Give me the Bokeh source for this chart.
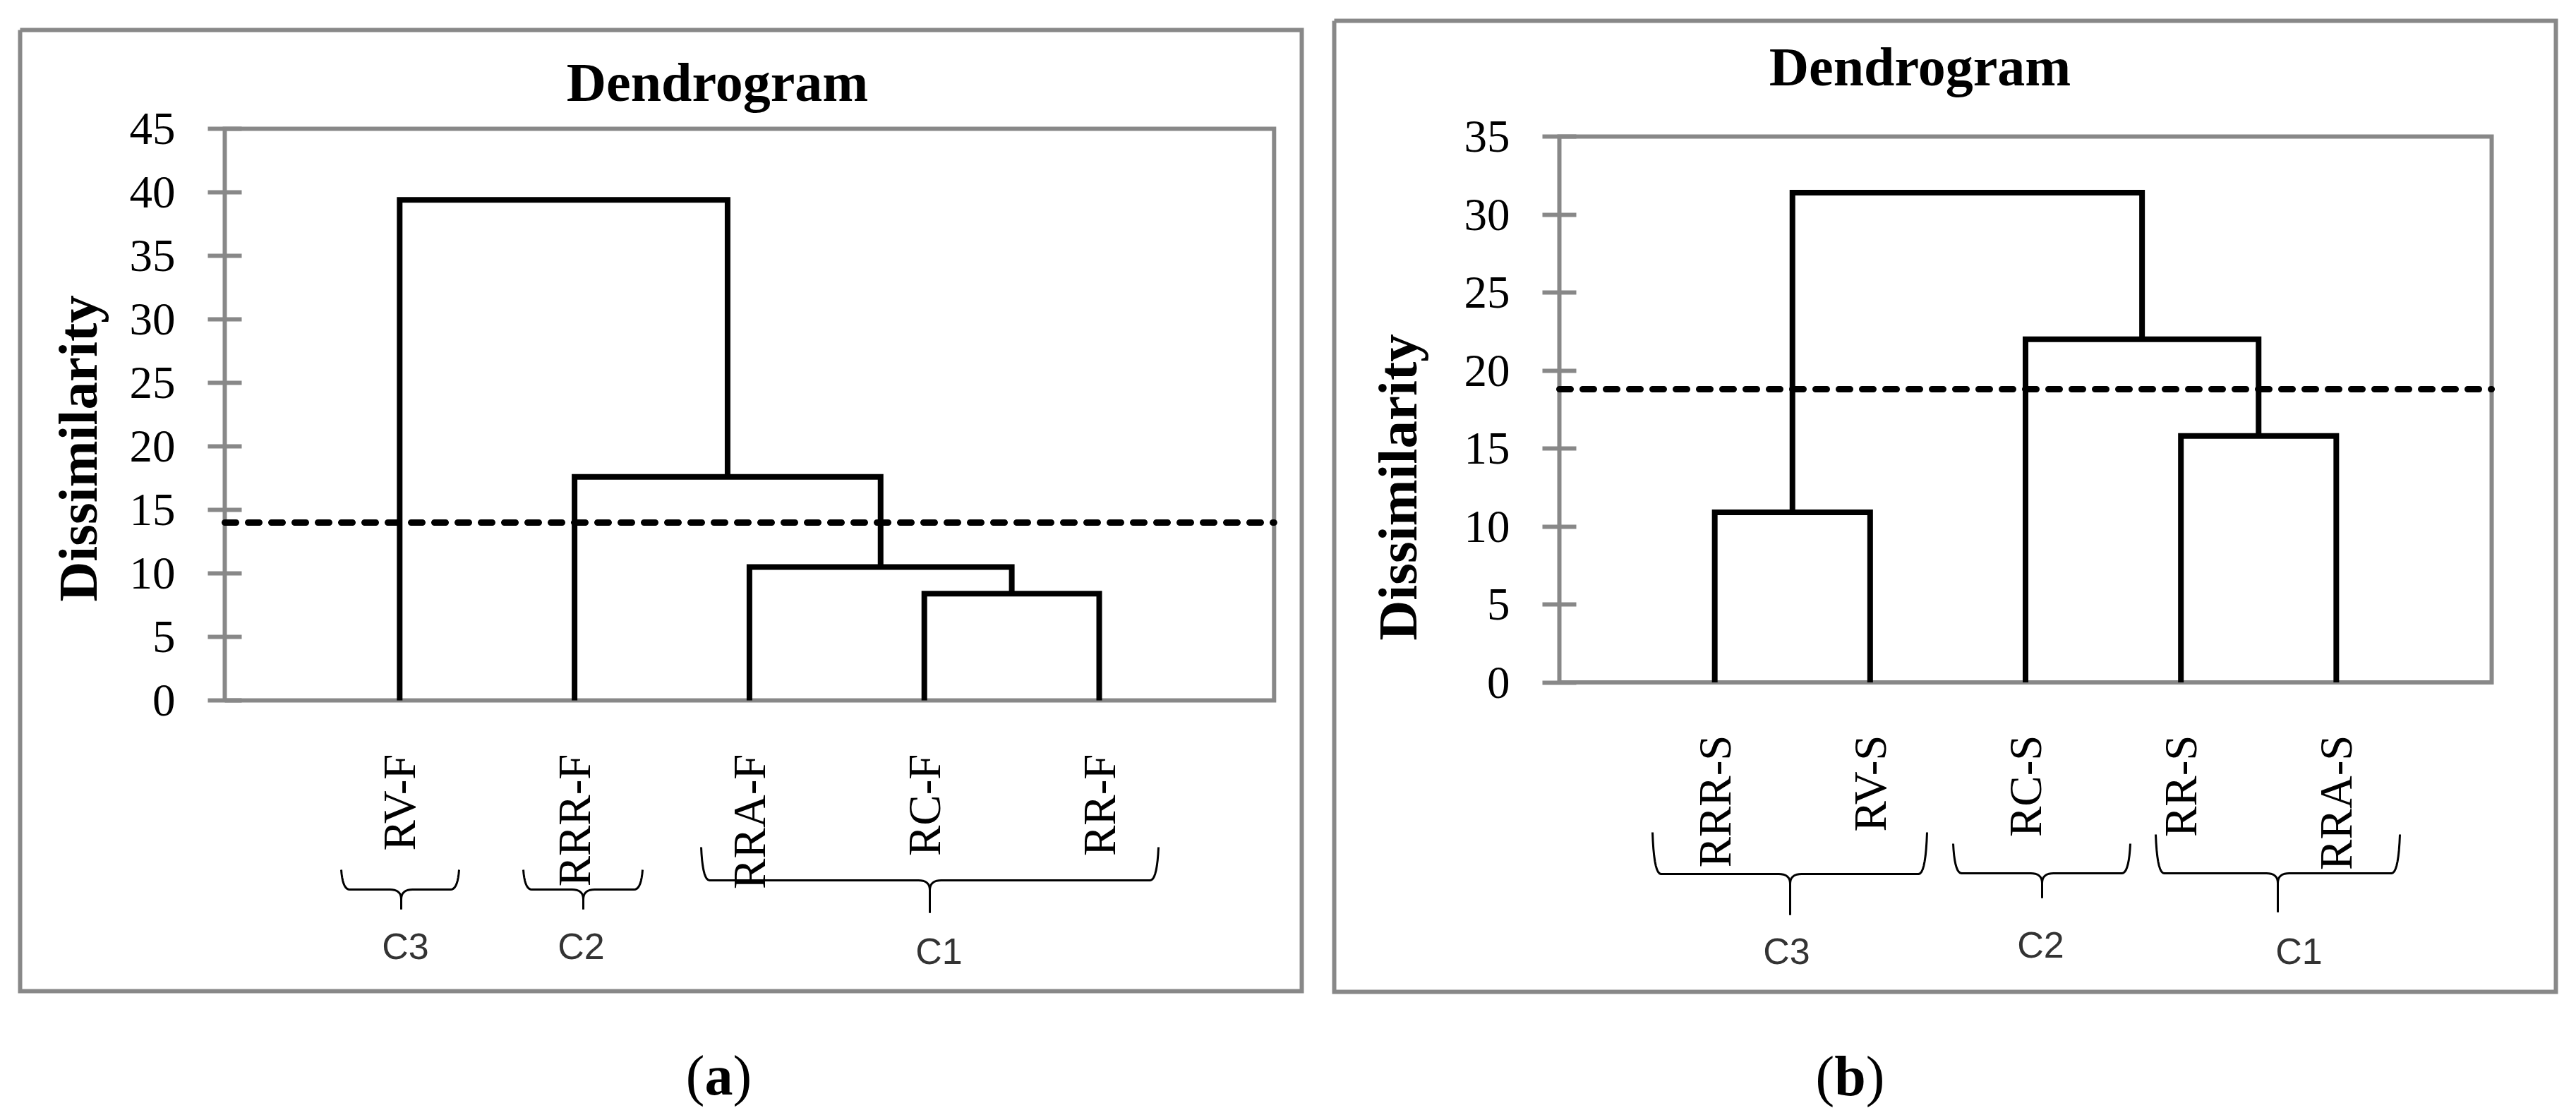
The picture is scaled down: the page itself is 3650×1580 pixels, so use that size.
import numpy as np
from bokeh.plotting import figure
from bokeh.models import Range1d, LinearAxis, FixedTicker
from bokeh.layouts import row
from bokeh.embed import file_html
from bokeh.resources import INLINE
from bokeh.core.properties import value

# ---------------- data ----------------
title_text = "Dendrogram"
ylabel_text = "Dissimilarity"

left_leaves = ["RV-F", "RRR-F", "RRA-F", "RC-F", "RR-F"]
left_merge_a = [3, 2, 1, 0]          # node ids: leaves 0..4, merged nodes 5..
left_merge_b = [4, 5, 6, 7]
left_heights = [8.4, 10.5, 17.6, 39.4]
left_cut = 14.0
left_yticks = [0, 5, 10, 15, 20, 25, 30, 35, 40, 45]
left_groups = ["C3", "C2", "C1"]
left_caption = "a"

right_leaves = ["RRR-S", "RV-S", "RC-S", "RR-S", "RRA-S"]
right_merge_a = [0, 3, 2, 5]
right_merge_b = [1, 4, 6, 7]
right_heights = [10.9, 15.8, 22.0, 31.4]
right_cut = 18.8
right_yticks = [0, 5, 10, 15, 20, 25, 30, 35]
right_groups = ["C3", "C2", "C1"]
right_caption = "b"

# ---------------- layout (page pixels) ----------------
PAGE_TOP, PAGE_BOTTOM = 0, 1572
GRAY = "#888888"
SERIF = "Liberation Serif"
SANS = "Liberation Sans"

left_layout = dict(
    fig=(0, 1870), x0=318, ux=247.8, y0=992, uy=18.0, ymax=45, nx=6,
    box=(28, 42, 1844, 1404), title=(1016, 116), ylabel=(110, 635),
    leaf_top=1068,
    braces=[(483, 650, 568, 1232, 1260, 1288),
            (741, 910, 826, 1232, 1260, 1288),
            (993, 1641, 1317, 1200, 1247, 1293)],
    glabels=[(574, 1340), (823, 1340), (1330, 1347)],
    caption=(1018, 1523),
)
right_layout = dict(
    fig=(1870, 3640), x0=2209, ux=220.17, y0=966.5, uy=22.1, ymax=35, nx=6,
    box=(1890, 29, 3621, 1405), title=(2720, 94), ylabel=(1980, 690),
    leaf_top=1041,
    braces=[(2341, 2730, 2536, 1179, 1238, 1296),
            (2767, 3018, 2893, 1195, 1237, 1272),
            (3054, 3400, 3227, 1182, 1237, 1292)],
    glabels=[(2531, 1347), (2891, 1338), (3257, 1347)],
    caption=(2621, 1524),
)


def dendro_segments(n, a, b, h):
    xpos = list(range(1, n + 1))
    hpos = [0.0] * n
    xs, ys = [], []
    for ai, bi, hi in zip(a, b, h):
        xs.append([xpos[ai], xpos[ai], xpos[bi], xpos[bi]])
        ys.append([hpos[ai], hi, hi, hpos[bi]])
        xpos.append((xpos[ai] + xpos[bi]) / 2.0)
        hpos.append(hi)
    return xs, ys


def quad(p0, c, p1, n=10):
    t = np.linspace(0, 1, n)
    x = (1 - t) ** 2 * p0[0] + 2 * (1 - t) * t * c[0] + t ** 2 * p1[0]
    y = (1 - t) ** 2 * p0[1] + 2 * (1 - t) * t * c[1] + t ** 2 * p1[1]
    return list(x), list(y)


def brace_paths(x0, x1, xc, ytop, ybar, ypt):
    paths = []
    for side in (-1, 1):
        xe = x0 if side < 0 else x1
        s = -side  # direction from end towards centre
        px, py = [], []
        cx, cy = quad((xe, ytop), (xe + s * 2, ybar), (xe + s * 12, ybar))
        px += cx; py += cy
        cx, cy = quad((xc - s * 16, ybar), (xc, ybar), (xc, ybar + 14))
        px += cx; py += cy
        px.append(xc); py.append(ypt)
        paths.append((px, py))
    return paths


def make_panel(leaves, ma, mb, heights, cut, yticks, groups, caption, L):
    x0, ux, y0, uy = L["x0"], L["ux"], L["y0"], L["uy"]
    dx = lambda X: (np.asarray(X, dtype=float) - x0) / ux
    dy = lambda Y: (y0 - np.asarray(Y, dtype=float)) / uy
    fl, fr = L["fig"]
    p = figure(width=fr - fl, height=PAGE_BOTTOM - PAGE_TOP,
               x_range=Range1d(float(dx(fl)), float(dx(fr))),
               y_range=Range1d(float(dy(PAGE_BOTTOM)), float(dy(PAGE_TOP))),
               output_backend="svg", toolbar_location=None,
               x_axis_type=None, y_axis_type=None, min_border=0,
               outline_line_color=None, background_fill_color="white",
               border_fill_color="white")
    p.grid.visible = False

    # outer panel box
    bx0, by0, bx1, by1 = L["box"]
    p.line(list(dx([bx0, bx1, bx1, bx0, bx0])), list(dy([by0, by0, by1, by1, by0])),
           line_color=GRAY, line_width=6, line_join="miter")

    # plot area border
    nx, ymax = L["nx"], L["ymax"]
    p.line([0, nx, nx, 0, 0], [0, 0, ymax, ymax, 0], line_color=GRAY,
           line_width=6, line_join="miter")

    # y axis at x = 0
    ax = LinearAxis(fixed_location=0, ticker=FixedTicker(ticks=yticks),
                    axis_line_color=None, major_tick_in=24, major_tick_out=24,
                    major_tick_line_color=GRAY, major_tick_line_width=6,
                    minor_tick_line_color=None, major_label_standoff=46,
                    major_label_text_font=SERIF, major_label_text_font_size="65px",
                    major_label_text_color="black")
    p.add_layout(ax, "left")

    # dendrogram
    xs, ys = dendro_segments(len(leaves), ma, mb, heights)
    p.multi_line(xs, ys, line_color="black", line_width=8, line_join="miter")

    # cut line
    p.line([0, nx], [cut, cut], line_color="black", line_width=9,
           line_dash="16 17", line_cap="round")

    # leaf labels
    lx = list(range(1, len(leaves) + 1))
    p.text(x=lx, y=[float(dy(L["leaf_top"]))] * len(leaves), text=leaves,
           angle=np.pi / 2, text_align="right", text_baseline="middle",
           text_font=value(SERIF), text_font_size="65px", text_color="black")

    # title
    tx, ty = L["title"]
    p.text(x=[float(dx(tx))], y=[float(dy(ty))], text=[title_text],
           text_align="center", text_baseline="middle",
           text_font=value(SERIF), text_font_style="bold",
           text_font_size="78px", text_color="black")

    # y label
    yx, yy = L["ylabel"]
    p.text(x=[float(dx(yx))], y=[float(dy(yy))], text=[ylabel_text],
           angle=np.pi / 2, text_align="center", text_baseline="middle",
           text_font=value(SERIF), text_font_style="bold",
           text_font_size="79px", text_color="black")

    # braces
    bxs, bys = [], []
    for br in L["braces"]:
        for px, py in brace_paths(*br):
            bxs.append(list(dx(px)))
            bys.append(list(dy(py)))
    p.multi_line(bxs, bys, line_color="black", line_width=3)

    # group labels
    gx = [float(dx(g[0])) for g in L["glabels"]]
    gy = [float(dy(g[1])) for g in L["glabels"]]
    p.text(x=gx, y=gy, text=groups, text_align="center",
           text_baseline="middle", text_font=value(SANS),
           text_font_size="52px", text_color="#333333")

    # caption "(x)" with bold letter
    cx, cym = L["caption"]
    fs = 80
    wp = 0.333 * fs
    wl = (0.556 if caption == "b" else 0.5) * fs
    start = cx - (2 * wp + wl) / 2
    p.text(x=[float(dx(start)), float(dx(start + wp + wl))], y=[float(dy(cym))] * 2,
           text=["(", ")"], text_align="left", text_baseline="middle",
           text_font=value(SERIF), text_font_size=f"{fs}px", text_color="black")
    p.text(x=[float(dx(start + wp))], y=[float(dy(cym))], text=[caption],
           text_align="left", text_baseline="middle",
           text_font=value(SERIF), text_font_style="bold",
           text_font_size=f"{fs}px", text_color="black")
    return p


p1 = make_panel(left_leaves, left_merge_a, left_merge_b, left_heights, left_cut,
                left_yticks, left_groups, left_caption, left_layout)
p2 = make_panel(right_leaves, right_merge_a, right_merge_b, right_heights, right_cut,
                right_yticks, right_groups, right_caption, right_layout)

layout = row(p1, p2, spacing=0)
open("out.html", "w").write(file_html(layout, INLINE))
